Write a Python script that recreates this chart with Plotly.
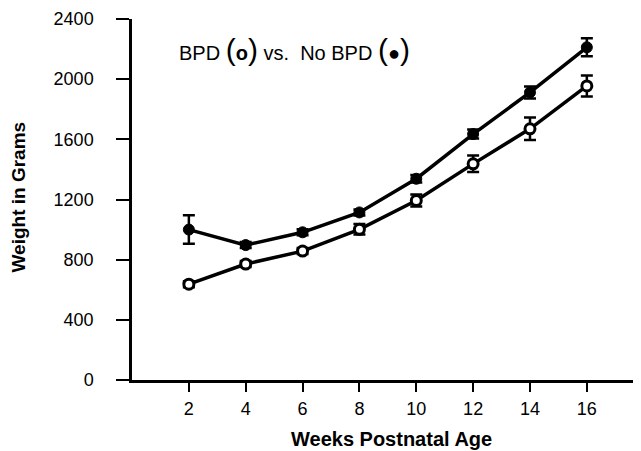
import plotly.graph_objects as go

weeks = [2, 4, 6, 8, 10, 12, 14, 16]
no_bpd = [1000, 897, 982, 1114, 1338, 1635, 1912, 2212]
no_bpd_err = [95, 20, 20, 20, 25, 30, 40, 60]
bpd = [637, 771, 857, 1002, 1193, 1437, 1670, 1955]
bpd_err = [20, 20, 20, 35, 40, 55, 75, 70]
y_ticks = [0, 400, 800, 1200, 1600, 2000, 2400]
x_ticks = weeks

FONT = "Liberation Sans, Arial, sans-serif"
OFF = 8  # page body margin
W, H = 641 - OFF, 451 - OFF
L, R, T, B = 132 - OFF, 1, 16 - OFF, 451 - 380
PW, PH = W - L - R, H - T - B

fig = go.Figure()
fig.add_trace(go.Scatter(
    x=weeks, y=no_bpd, mode="lines+markers",
    line=dict(color="black", width=3.5),
    marker=dict(symbol="circle", size=11, color="black", line=dict(color="black", width=1)),
    error_y=dict(type="data", array=no_bpd_err, color="black", thickness=2.5, width=6),
    showlegend=False, cliponaxis=False,
))
fig.add_trace(go.Scatter(
    x=weeks, y=bpd, mode="lines+markers",
    line=dict(color="black", width=3.5),
    marker=dict(symbol="circle", size=10, color="white", line=dict(color="black", width=3)),
    error_y=dict(type="data", array=bpd_err, color="black", thickness=2.5, width=6),
    showlegend=False, cliponaxis=False,
))

def px_x(p):
    return (p - OFF - L) / PW

def px_y(p):
    return (H - B - (p - OFF)) / PH

fig.add_annotation(
    xref="paper", yref="paper", x=px_x(177), y=px_y(47), xanchor="left", yanchor="middle",
    text="BPD <span style='font-size:30px'>(</span><b>o</b><span style='font-size:30px'>)</span> vs.  No BPD <span style='font-size:30px'>(</span>●<span style='font-size:30px'>)</span>",
    showarrow=False, font=dict(family=FONT, size=20, color="black"),
)
fig.add_annotation(
    xref="paper", yref="paper", x=px_x(391), y=px_y(439), xanchor="center", yanchor="middle",
    text="<b>Weeks Postnatal Age</b>", showarrow=False,
    font=dict(family=FONT, size=20, color="black"),
)
fig.add_annotation(
    xref="paper", yref="paper", x=px_x(19), y=px_y(196), xanchor="center", yanchor="middle",
    text="<b>Weight in Grams</b>", textangle=-90, showarrow=False,
    font=dict(family=FONT, size=19, color="black"),
)

fig.update_layout(
    width=W, height=H,
    margin=dict(l=L, r=R, t=T, b=B),
    paper_bgcolor="white", plot_bgcolor="white",
    font=dict(family=FONT, color="black", size=18),
)
fig.update_xaxes(
    range=[0, 17.87], tickvals=x_ticks, ticks="outside", ticklen=9, tickwidth=2,
    tickcolor="black", showline=True, linecolor="black", linewidth=2.5,
    showgrid=False, zeroline=False, tickfont=dict(size=18, family=FONT),
    ticklabelstandoff=2,
)
fig.update_yaxes(
    range=[0, 2400], tickvals=y_ticks, ticks="outside", ticklen=13, tickwidth=2,
    tickcolor="black", showline=True, linecolor="black", linewidth=2.5,
    showgrid=False, zeroline=False, tickfont=dict(size=18, family=FONT),
    ticklabelstandoff=19, ticklabeloverflow="allow",
)

fig.write_html("out.html")
